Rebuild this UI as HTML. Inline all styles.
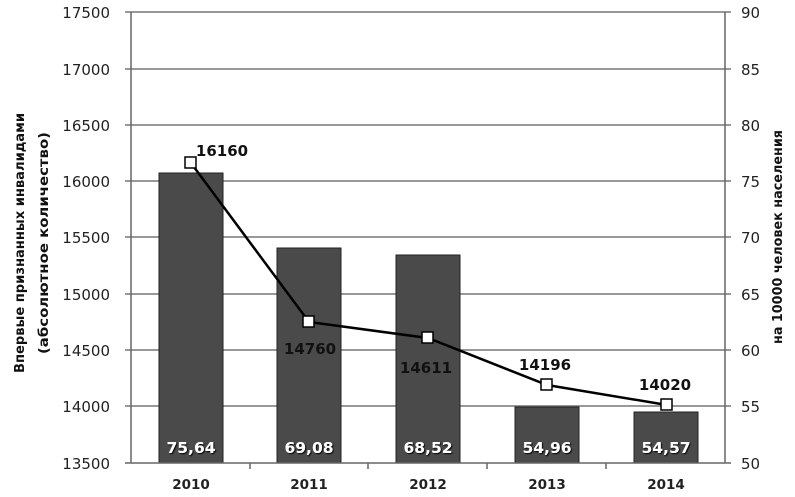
<!DOCTYPE html>
<html><head><meta charset="utf-8"><style>
html,body{margin:0;padding:0;background:#fff}
svg{display:block}
text{font-family:"DejaVu Sans","Liberation Sans",sans-serif}
</style></head><body>
<svg width="795" height="497" viewBox="0 0 795 497">
<defs><filter id="sh"><feDropShadow dx="1" dy="1" stdDeviation="0.6" flood-color="#000"/></filter></defs>
<g stroke="#777" stroke-width="1.5">
<line x1="125" y1="12" x2="731" y2="12"/>
<line x1="125" y1="69" x2="731" y2="69"/>
<line x1="125" y1="125" x2="731" y2="125"/>
<line x1="125" y1="181" x2="731" y2="181"/>
<line x1="125" y1="237" x2="731" y2="237"/>
<line x1="125" y1="294" x2="731" y2="294"/>
<line x1="125" y1="350" x2="731" y2="350"/>
<line x1="125" y1="406" x2="731" y2="406"/>
</g>
<g fill="#4a4a4a" stroke="#222" stroke-width="1">
<rect x="159" y="173" width="64" height="290"/>
<rect x="277" y="248" width="64" height="215"/>
<rect x="396" y="255" width="64" height="208"/>
<rect x="515" y="407" width="64" height="56"/>
<rect x="634" y="412" width="64" height="51"/>
</g>
<g stroke="#666" stroke-width="1.5">
<line x1="131" y1="12" x2="131" y2="463"/>
<line x1="725" y1="12" x2="725" y2="463"/>
<line x1="125" y1="463" x2="731" y2="463"/>
<line x1="250" y1="463" x2="250" y2="469"/>
<line x1="368" y1="463" x2="368" y2="469"/>
<line x1="487" y1="463" x2="487" y2="469"/>
<line x1="606" y1="463" x2="606" y2="469"/>
</g>
<polyline points="191,163 309,322 428,338 547,385 667,405" fill="none" stroke="#000" stroke-width="2.5"/>
<g fill="#fff" stroke="#000" stroke-width="1.5">
<rect x="185" y="157" width="11" height="11"/>
<rect x="303" y="316" width="11" height="11"/>
<rect x="422" y="332" width="11" height="11"/>
<rect x="541" y="379" width="11" height="11"/>
<rect x="661" y="399" width="11" height="11"/>
</g>
<g font-size="15" fill="#222" text-anchor="end">
<text x="110" y="18">17500</text><text x="110" y="75">17000</text><text x="110" y="131">16500</text>
<text x="110" y="187">16000</text><text x="110" y="243">15500</text><text x="110" y="300">15000</text>
<text x="110" y="356">14500</text><text x="110" y="412">14000</text><text x="110" y="469">13500</text>
</g>
<g font-size="15" fill="#222">
<text x="741" y="18">90</text><text x="741" y="75">85</text><text x="741" y="131">80</text>
<text x="741" y="187">75</text><text x="741" y="243">70</text><text x="741" y="300">65</text>
<text x="741" y="356">60</text><text x="741" y="412">55</text><text x="741" y="469">50</text>
</g>
<g font-size="13.5" font-weight="bold" fill="#222" text-anchor="middle">
<text x="191" y="489">2010</text><text x="309" y="489">2011</text><text x="428" y="489">2012</text>
<text x="547" y="489">2013</text><text x="666" y="489">2014</text>
</g>
<g font-size="15" font-weight="bold" fill="#111" text-anchor="middle">
<text x="222" y="156">16160</text><text x="310" y="354">14760</text><text x="426" y="373">14611</text>
<text x="545" y="370">14196</text><text x="665" y="390">14020</text>
</g>
<g font-size="15.5" font-weight="bold" fill="#fff" text-anchor="middle" filter="url(#sh)">
<text x="191" y="453">75,64</text><text x="309" y="453">69,08</text><text x="428" y="453">68,52</text>
<text x="547" y="453">54,96</text><text x="666" y="453">54,57</text>
</g>
<g font-size="13" font-weight="bold" fill="#111" text-anchor="middle" font-family="Liberation Sans Narrow, Liberation Sans, sans-serif">
<text transform="translate(24,243) rotate(-90)" textLength="260" lengthAdjust="spacingAndGlyphs">Впервые признанных инвалидами</text>
<text transform="translate(48,243) rotate(-90)" textLength="222" lengthAdjust="spacingAndGlyphs">(абсолютное количество)</text>
<text transform="translate(782,237) rotate(-90)" textLength="214" lengthAdjust="spacingAndGlyphs">на 10000 человек населения</text>
</g>
</svg>
</body></html>
